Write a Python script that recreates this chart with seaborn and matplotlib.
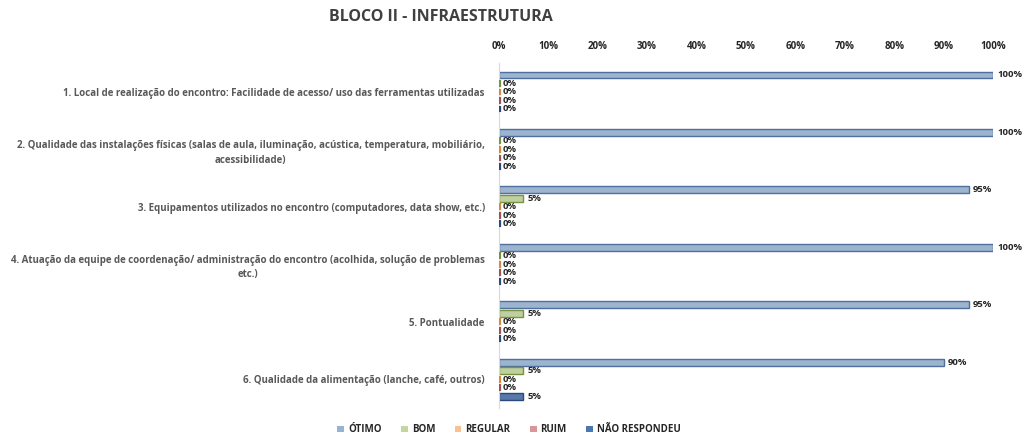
import pandas as pd
import matplotlib
matplotlib.use('Agg')
import matplotlib.pyplot as plt
import seaborn as sns

# dados
itens = [
    '1. Local de realização do encontro: Facilidade de acesso/ uso das ferramentas utilizadas',
    '2. Qualidade das instalações físicas (salas de aula, iluminação, acústica, temperatura, mobiliário,\nacessibilidade)',
    '3. Equipamentos utilizados no encontro (computadores, data show, etc.)',
    '4. Atuação da equipe de coordenação/ administração do encontro (acolhida, solução de problemas\netc.)',
    '5. Pontualidade',
    '6. Qualidade da alimentação (lanche, café, outros)',
]
respostas = ['ÓTIMO', 'BOM', 'REGULAR', 'RUIM', 'NÃO RESPONDEU']
otimo = [100, 100, 95, 100, 95, 90]
bom = [0, 0, 5, 0, 5, 5]
regular = [0, 0, 0, 0, 0, 0]
ruim = [0, 0, 0, 0, 0, 0]
nao_respondeu = [0, 0, 0, 0, 0, 5]

cores = ['#95B3D7', '#C3D69B', '#FAC090', '#D99694', '#4A76B5']
bordas = ['#4F6F9F', '#77933C', '#D9893F', '#A05250', '#2A4A7A']

series = [otimo, bom, regular, ruim, nao_respondeu]
rows = []
for resp, vals in zip(respostas, series):
    for item, v in zip(itens, vals):
        rows.append({'item': item, 'resposta': resp, 'valor': v})
df = pd.DataFrame(rows)

sns.set_style('white')
plt.rcParams['font.family'] = ['Open Sans', 'DejaVu Sans']

fig = plt.figure(figsize=(10.24, 4.45), dpi=100)
ax = fig.add_axes([0.487, 0.083, 0.483, 0.775])

sns.barplot(data=df, y='item', x='valor', hue='resposta', hue_order=respostas,
            order=itens, palette=cores, orient='h', width=0.74, gap=0.2,
            ax=ax, legend=False)
ylim = ax.get_ylim()

for cont, borda in zip(ax.containers, bordas):
    for patch in cont:
        patch.set_edgecolor(borda)
        patch.set_linewidth(1.0)
        if patch.get_width() == 0:
            # barras de 0% aparecem como um traço fino
            y0 = patch.get_y()
            ax.vlines(patch.get_x() + 0.3, y0, y0 + patch.get_height(),
                      color=borda, lw=1.6, zorder=3)
    ax.bar_label(cont, fmt='%d%%', padding=3, fontsize=6.8, fontweight='bold',
                 color='#262626')

ax.set_ylim(ylim)
ax.set_xlim(0, 100)
ax.set_xticks(range(0, 101, 10))
ax.set_xticklabels([f'{t}%' for t in range(0, 101, 10)])
ax.xaxis.tick_top()
ax.tick_params(axis='x', length=0, labelsize=7, pad=8)
ax.tick_params(axis='y', length=0, labelsize=7, pad=10)
for lbl in ax.get_xticklabels():
    lbl.set_fontweight('bold')
    lbl.set_color('#262626')
for lbl in ax.get_yticklabels():
    lbl.set_fontweight('bold')
    lbl.set_color('#595959')
    lbl.set_multialignment('center')
    lbl.set_linespacing(1.45)
ax.set_xlabel('')
ax.set_ylabel('')
for side in ['top', 'right', 'bottom']:
    ax.spines[side].set_visible(False)
ax.spines['left'].set_color('#D9D9D9')
ax.spines['left'].set_linewidth(0.8)

fig.text(0.431, 0.962, 'BLOCO II - INFRAESTRUTURA', ha='center', va='center',
         fontsize=11.5, fontweight='bold', color='#404040')

handles = [plt.Rectangle((0, 0), 1, 1, facecolor=c, edgecolor='none') for c in cores]
leg = fig.legend(handles, respostas, loc='center', bbox_to_anchor=(0.497, 0.034),
                 ncol=5, frameon=False, fontsize=7, handlelength=0.7, handleheight=0.7,
                 handletextpad=0.4, columnspacing=2.0)
for t in leg.get_texts():
    t.set_fontweight('bold')
    t.set_color('#262626')

fig.savefig('out.png', dpi=100)
